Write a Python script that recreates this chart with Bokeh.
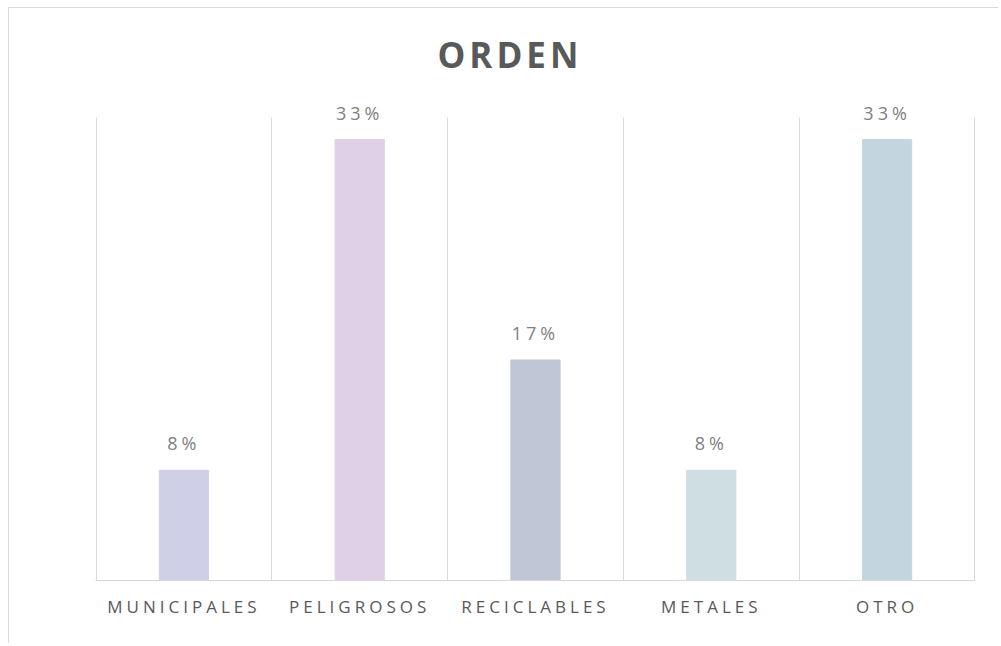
from bokeh.plotting import figure
from bokeh.models import FixedTicker, ColumnDataSource, LabelSet, Label
from bokeh.core.properties import value
from bokeh.embed import file_html
from bokeh.resources import INLINE

categories = ["MUNICIPALES", "PELIGROSOS", "RECICLABLES", "METALES", "OTRO"]
shares = [0.0833, 0.3333, 0.1667, 0.0833, 0.3333]
colors = ["#cfcfe8", "#dfd0e8", "#bfc7d7", "#cfdee3", "#c3d6df"]
title_text = "ORDEN"
y_axis_max = 0.35

# layout (pixels)
W, H = 990, 636
B_LEFT, B_RIGHT, B_BOTTOM = 86, 24, 64
GRID_TOP = 109           # top of the value area below the figure top
LS = 4                   # letter spacing (px), applied through CSS

n = len(categories)
x_lo, x_hi = -0.003, n + 0.003
frame_w = W - B_LEFT - B_RIGHT
frame_h = H - B_BOTTOM
px_per_unit = frame_w / (x_hi - x_lo)
y_end = y_axis_max * frame_h / (frame_h - GRID_TOP)

xs = [i + 0.5 for i in range(n)]
labels = [f"{v:.0%}" for v in shares]
label_xoff = [-len(t) * LS / 2 for t in labels]
src = ColumnDataSource(dict(x=xs, top=shares, color=colors, label=labels, xoff=label_xoff))

p = figure(width=W, height=H, output_backend="svg", toolbar_location=None,
           x_range=(x_lo, x_hi), y_range=(0, y_end),
           min_border_left=B_LEFT, min_border_right=B_RIGHT, min_border_top=0,
           min_border_bottom=B_BOTTOM)
p.margin = (8, 0, 0, 9)
p.styles = {"box-shadow": "-1px -1px 0 0 #d9d9d9", "letter-spacing": f"{LS}px"}

# vertical grid lines at category boundaries, up to the axis maximum
grid = p.xgrid[0]
if "cross_bounds" in grid.properties():
    grid.ticker = FixedTicker(ticks=list(range(n + 1)))
    grid.cross_bounds = (0, y_axis_max)
    grid.grid_line_color = "#d9d9d9"
else:
    grid.visible = False
    bx = list(range(n + 1))
    p.segment(x0=bx, x1=bx, y0=[0] * len(bx), y1=[y_axis_max] * len(bx),
              line_color="#d9d9d9", line_width=1)
p.ygrid.grid_line_color = None

p.vbar(x="x", top="top", width=0.28, color="color", source=src)
p.add_layout(LabelSet(x="x", y="top", text="label", source=src, text_align="center",
                      text_baseline="alphabetic", x_offset="xoff", y_offset=20,
                      text_font=value("Open Sans"), text_font_size="18px",
                      text_color="#7f7f7f"))

p.add_layout(Label(x=342, y=frame_h - 46, x_units="screen", y_units="screen",
                   text=title_text, text_font="Open Sans", text_font_size="35px",
                   text_font_style="bold", text_color="#595959",
                   text_align="left", text_baseline="alphabetic"))

p.yaxis.visible = False
tick_pos = [x - len(c) * LS / 2 / px_per_unit for x, c in zip(xs, categories)]
p.xaxis.ticker = FixedTicker(ticks=tick_pos)
p.xaxis.major_label_overrides = {t: c for t, c in zip(tick_pos, categories)}
p.xaxis.axis_line_color = "#d9d9d9"
p.xaxis.major_tick_line_color = None
p.xaxis.minor_tick_line_color = None
p.xaxis.major_label_text_font = "Open Sans"
p.xaxis.major_label_text_font_size = "17px"
p.xaxis.major_label_text_color = "#595959"
p.xaxis.major_label_standoff = 8
p.outline_line_color = None
p.background_fill_color = "white"
p.border_fill_color = "white"

open("out.html", "w").write(file_html(p, INLINE))
